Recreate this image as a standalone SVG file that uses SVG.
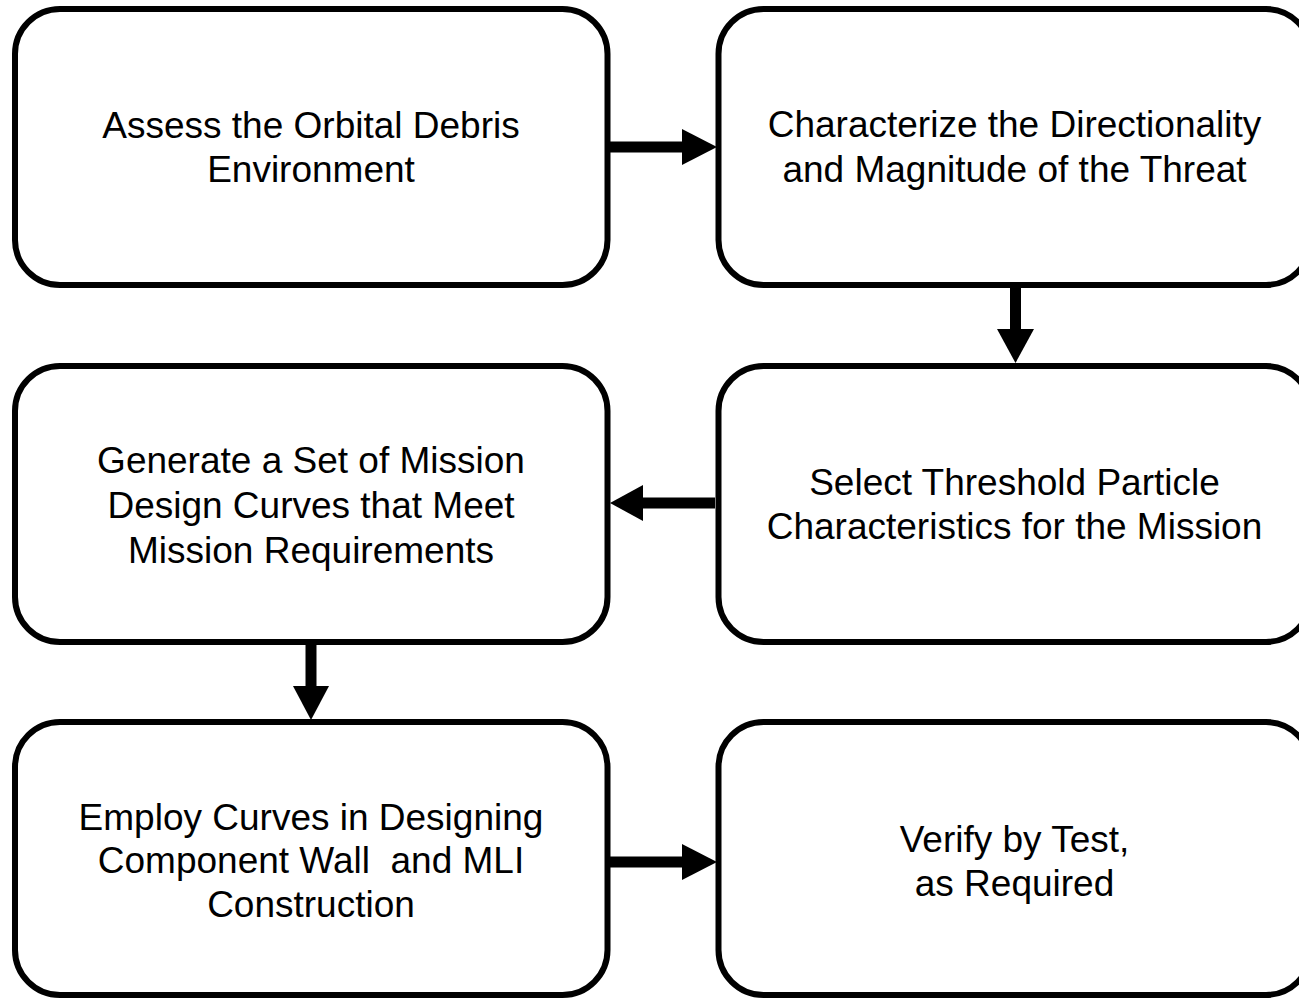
<svg xmlns="http://www.w3.org/2000/svg" width="1299" height="998" viewBox="0 0 1299 998">
<style>
.box{fill:#fff;stroke:#000;stroke-width:6}
.t{font-family:"Liberation Sans",Arial,sans-serif;font-size:37px;fill:#000;text-anchor:middle;white-space:pre}
.sh{stroke:#000;stroke-width:11;fill:none}
.hd{fill:#000;stroke:none}
</style>
<rect width="1299" height="998" fill="#fff"/>
<g id="n1"><rect class="box" x="15" y="9" width="592.5" height="276" rx="45" ry="45"/>
<text class="t" x="311" y="138">Assess the Orbital Debris</text>
<text class="t" x="311" y="182">Environment</text></g>
<g id="n2"><rect class="box" x="718.5" y="9" width="592.5" height="276" rx="45" ry="45"/>
<text class="t" x="1014.5" y="137">Characterize the Directionality</text>
<text class="t" x="1014.5" y="182">and Magnitude of the Threat</text></g>
<g id="n3"><rect class="box" x="718.5" y="366" width="592.5" height="276" rx="45" ry="45"/>
<text class="t" x="1014.5" y="495">Select Threshold Particle</text>
<text class="t" x="1014.5" y="539">Characteristics for the Mission</text></g>
<g id="n4"><rect class="box" x="15" y="366" width="592.5" height="276" rx="45" ry="45"/>
<text class="t" x="311" y="473">Generate a Set of Mission</text>
<text class="t" x="311" y="518">Design Curves that Meet</text>
<text class="t" x="311" y="563">Mission Requirements</text></g>
<g id="n5"><rect class="box" x="15" y="722" width="592.5" height="273" rx="45" ry="45"/>
<text class="t" x="311" y="830">Employ Curves in Designing</text>
<text class="t" x="311" y="873">Component Wall  and MLI</text>
<text class="t" x="311" y="917">Construction</text></g>
<g id="n6"><rect class="box" x="718.5" y="722" width="592.5" height="273" rx="45" ry="45"/>
<text class="t" x="1014.5" y="852">Verify by Test,</text>
<text class="t" x="1014.5" y="896">as Required</text></g>
<g id="connectors">
<line class="sh" x1="610" y1="147" x2="684" y2="147"/>
<polygon class="hd" points="682,129 717,147 682,165"/>
<line class="sh" x1="1015.5" y1="288" x2="1015.5" y2="331"/>
<polygon class="hd" points="997,329 1015.5,363 1034,329"/>
<line class="sh" x1="715" y1="503" x2="641" y2="503"/>
<polygon class="hd" points="643,485 610,503 643,521"/>
<line class="sh" x1="311" y1="645" x2="311" y2="688"/>
<polygon class="hd" points="293,686 311,720 329,686"/>
<line class="sh" x1="610" y1="862" x2="684" y2="862"/>
<polygon class="hd" points="682,844 717,862 682,880"/>
</g>
</svg>
